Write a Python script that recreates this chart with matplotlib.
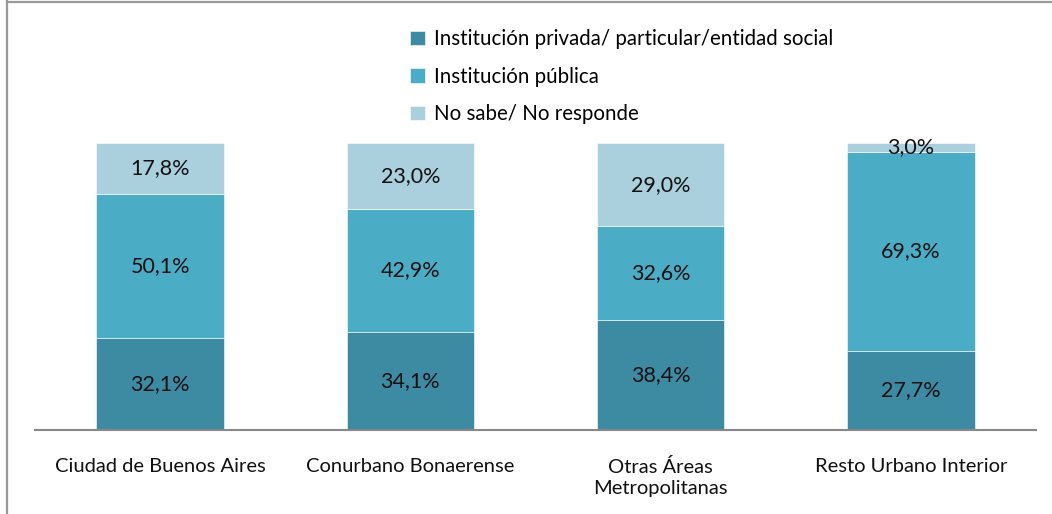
import matplotlib.pyplot as plt
from matplotlib.lines import Line2D
import numpy as np

plt.rcParams["font.family"] = ["Lato", "DejaVu Sans"]

categories = ["Ciudad de Buenos Aires", "Conurbano Bonaerense",
              "Otras Áreas\nMetropolitanas", "Resto Urbano Interior"]
series_names = ["Institución privada/ particular/entidad social",
                "Institución pública",
                "No sabe/ No responde"]
privada = [32.1, 34.1, 38.4, 27.7]
publica = [50.1, 42.9, 32.6, 69.3]
no_sabe = [17.8, 23.0, 29.0, 3.0]
colors = ["#3D8AA3", "#4BACC6", "#AACFDD"]

fig = plt.figure(figsize=(10.52, 5.14), dpi=100)
ax = fig.add_axes([35 / 1052, 84 / 514, 1001 / 1052, 287 / 514])

x = np.arange(len(categories))
bottom = np.zeros(len(categories))
handles = []
for vals, name, col in zip([privada, publica, no_sabe], series_names, colors):
    vals = np.array(vals)
    bars = ax.bar(x, vals, 0.51, bottom=bottom, color=col, label=name,
                  edgecolor="white", linewidth=0.4)
    handles.append(bars)
    for xi, b, v in zip(x, bottom, vals):
        ax.text(xi, b + v / 2, f"{v:.1f}%".replace(".", ","),
                ha="center", va="center", fontsize=15.5, color="#111111")
    bottom += vals

ax.set_xlim(-0.5, 3.5)
ax.set_ylim(0, 100)
ax.set_yticks([])
ax.set_xticks(x)
ax.set_xticklabels(categories, fontsize=14.5, color="#111111", linespacing=1.3)
ax.tick_params(axis="x", length=0, pad=20)
for s in ["top", "right", "left"]:
    ax.spines[s].set_visible(False)
ax.spines["bottom"].set_color("#888888")
ax.spines["bottom"].set_linewidth(1.5)

fig.legend(handles=handles, loc="upper left", bbox_to_anchor=(402 / 1052, 1 - 21 / 514),
           frameon=False, fontsize=14.8, handlelength=0.7, handleheight=0.7,
           handletextpad=0.45, labelspacing=0.85, borderaxespad=0)

# outer frame (left and top edges)
fig.add_artist(Line2D([7 / 1052, 7 / 1052], [0, 1 - 1 / 514], color="#999999", lw=1.6,
                      transform=fig.transFigure))
fig.add_artist(Line2D([7 / 1052, 1], [1 - 2 / 514, 1 - 2 / 514], color="#999999", lw=1.6,
                      transform=fig.transFigure))

fig.savefig("out.png", dpi=100)
